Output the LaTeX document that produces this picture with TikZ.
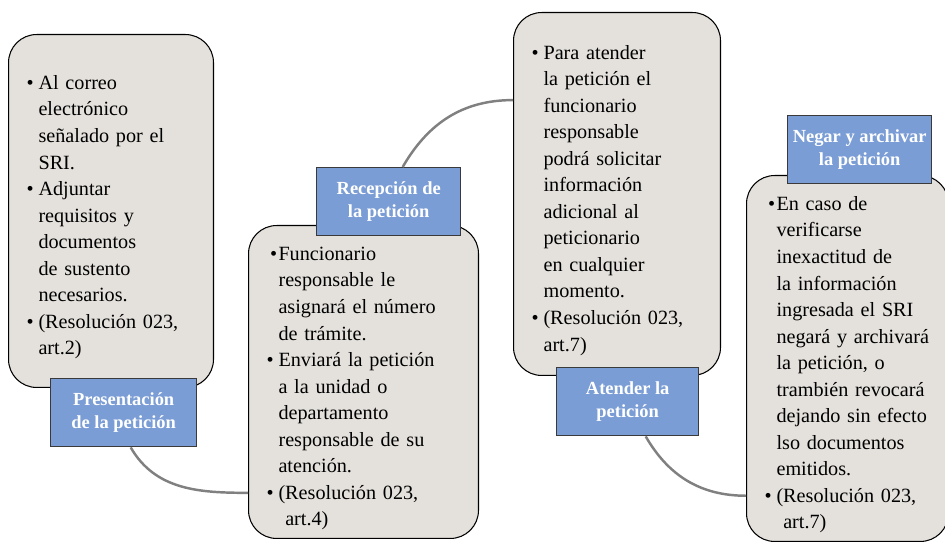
\documentclass[tikz,border=0pt]{standalone}
\usepackage{fontspec}
\setmainfont{Liberation Serif}
\usetikzlibrary{positioning, calc}
\usepackage{xcolor}
\definecolor{cardgray}{HTML}{E4E1DC}
\definecolor{tagblue}{HTML}{7B9DD5}
\definecolor{tagedge}{HTML}{3A3A3A}
\definecolor{linkgray}{HTML}{808080}
\newcommand{\bitem}[1][0.24cm]{\par\leftskip=0.5cm\noindent\llap{\makebox[#1][l]{\textbullet}}\ignorespaces}

\begin{document}
\begin{tikzpicture}[x=0.02cm, y=-0.02cm,
    card/.style={draw=black, line width=0.6pt, fill=cardgray, rounded corners=16pt,
      anchor=north west, inner xsep=0.1cm, inner ysep=0pt, align=left,
      font=\fontsize{11.5}{15.1}\selectfont},
    tag/.style={draw=tagedge, line width=0.8pt, fill=tagblue, text=white,
      anchor=north west, minimum width=2.88cm, minimum height=1.36cm,
      inner sep=0pt, align=center, font=\fontsize{10.5}{13.2}\selectfont\bfseries},
    link/.style={draw=linkgray, line width=1.4pt}]
    \useasboundingbox (0,0) rectangle (945,543);

    % cards
    \node[card, text width=3.9cm, minimum height=7.06cm] (pres) at (8,34)
      {\bitem Al correo\\ electrónico\\ señalado por el\\ SRI.
       \bitem Adjuntar\\ requisitos y\\ documentos\\ de sustento\\ necesarios.
       \bitem (Resolución 023,\\ art.2)\par};
    \node[card, text width=4.4cm, minimum height=6.26cm] (recv) at (248,225)
      {\bitem[0.17cm] Funcionario\\ responsable le\\ asignará el número\\ de trámite.
       \bitem Enviará la petición\\ a la unidad o\\ departamento\\ responsable de su\\ atención.
       \bitem (Resolución 023,\\ \ art.4)\par};
    \node[card, text width=3.94cm, minimum height=7.26cm] (attend) at (513,12)
      {\bitem Para atender\\ la petición el\\ funcionario\\ responsable\\ podrá solicitar\\
       información\\ adicional al\\ peticionario\\ en cualquier\\ momento.
       \bitem (Resolución 023,\\ art.7)\par};
    \node[card, text width=3.84cm, minimum height=7.32cm] (deny) at (746,175)
      {\bitem[0.17cm] En caso de\\ verificarse\\ inexactitud de\\ la información\\
       ingresada el SRI\\ negará y archivará\\ la petición, o\\ trambién revocará\\
       dejando sin efecto\\ lso documentos\\ emitidos.
       \bitem (Resolución 023,\\ \ art.7)\par};

    % labels
    \node[tag, minimum width=2.92cm] (pres-tag) at (50,378) {Presentación\\ de la petición};
    \node[tag] (recv-tag) at (316,167) {Recepción de\\ la petición};
    \node[tag, minimum width=2.84cm] (attend-tag) at (556,367) {Atender la\\ petición};
    \node[tag] (deny-tag) at (787,115) {Negar y archivar\\ la petición};

    % arcs
    \draw[link] ([xshift=0.14cm]pres-tag.south) to[out=-60, in=180]
      ($(recv.north west)!0.853!(recv.south west)$);
    \draw[link] ([xshift=0.28cm]recv-tag.north) to[out=60, in=180]
      ($(attend.north west)!0.242!(attend.south west)$);
    \draw[link] ([xshift=0.36cm]attend-tag.south) to[out=-60, in=180]
      ($(deny.north west)!0.874!(deny.south west)$);
\end{tikzpicture}
\end{document}
